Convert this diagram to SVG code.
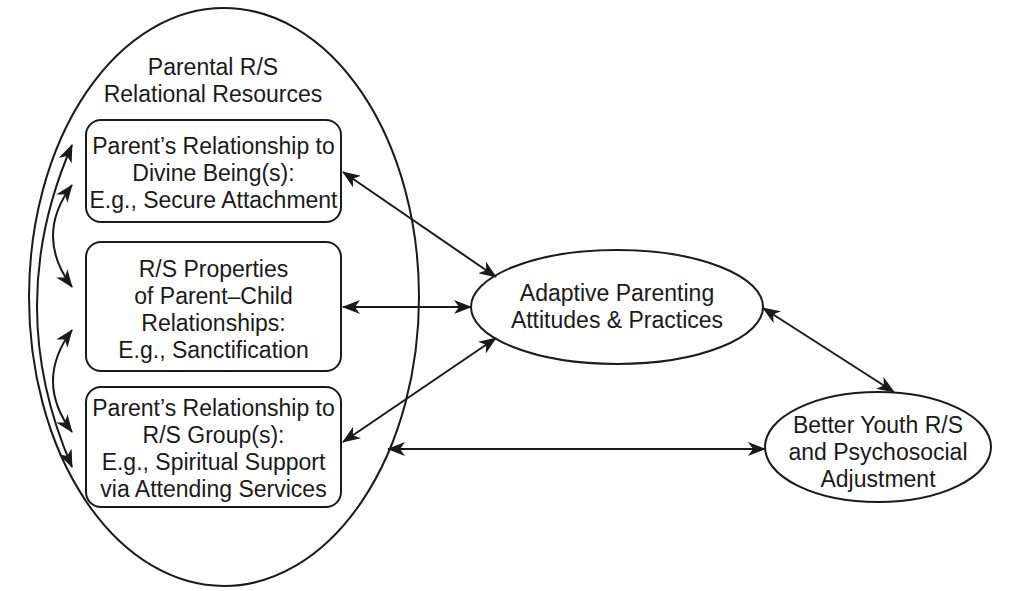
<svg xmlns="http://www.w3.org/2000/svg" width="1030" height="591" viewBox="0 0 1030 591">
<defs>
<marker id="ah" viewBox="0 0 18 14" refX="17" refY="7" markerWidth="18" markerHeight="14" markerUnits="userSpaceOnUse" orient="auto-start-reverse">
<path d="M18,7 L0,0 L5,7 L0,14 Z" fill="#1a1a1a"/>
</marker>
</defs>
<style>
.shape{fill:none;stroke:#1a1a1a;stroke-width:2}
.box{fill:#fff;stroke:#1a1a1a;stroke-width:2}
.conn{fill:none;stroke:#1a1a1a;stroke-width:2;marker-start:url(#ah);marker-end:url(#ah)}
text{font-family:"Liberation Sans",Arial,sans-serif;font-size:23px;fill:#1a1a1a;text-anchor:middle}
</style>
<rect width="1030" height="591" fill="#fff"/>
<g id="resources">
<ellipse class="shape" cx="224" cy="297" rx="195" ry="289"/>
<text x="213" y="75">Parental R/S</text>
<text x="213" y="102">Relational Resources</text>
</g>
<g id="divine">
<rect class="box" x="86" y="120" width="255" height="102" rx="15"/>
<text x="213.5" y="154">Parent’s Relationship to</text>
<text x="213.5" y="181">Divine Being(s):</text>
<text x="213.5" y="208">E.g., Secure Attachment</text>
</g>
<g id="parentchild">
<rect class="box" x="86" y="242" width="255" height="129" rx="15"/>
<text x="213.5" y="277">R/S Properties</text>
<text x="213.5" y="304">of Parent–Child</text>
<text x="213.5" y="331">Relationships:</text>
<text x="213.5" y="358">E.g., Sanctification</text>
</g>
<g id="group">
<rect class="box" x="86" y="387" width="255" height="120" rx="15"/>
<text x="213.5" y="416">Parent’s Relationship to</text>
<text x="213.5" y="443">R/S Group(s):</text>
<text x="213.5" y="470">E.g., Spiritual Support</text>
<text x="213.5" y="497">via Attending Services</text>
</g>
<g id="adaptive">
<ellipse class="shape" cx="617" cy="307" rx="146" ry="57"/>
<text x="617" y="301">Adaptive Parenting</text>
<text x="617" y="328">Attitudes &amp; Practices</text>
</g>
<g id="youth">
<ellipse class="shape" cx="878" cy="447" rx="113" ry="55"/>
<text x="878" y="433">Better Youth R/S</text>
<text x="878" y="460">and Psychosocial</text>
<text x="878" y="487">Adjustment</text>
</g>
<g id="connectors">
<path class="conn" d="M72,145 Q2,306 72,467"/>
<path class="conn" d="M72,185 Q34,236 72,287"/>
<path class="conn" d="M72,330 Q34,381 72,432"/>
<path class="conn" d="M343,172 L496,277"/>
<path class="conn" d="M343,307 L471,307"/>
<path class="conn" d="M343,442 L496,338"/>
<path class="conn" d="M388,449 L765,449"/>
<path class="conn" d="M763,308 L894,392"/>
</g>
</svg>
